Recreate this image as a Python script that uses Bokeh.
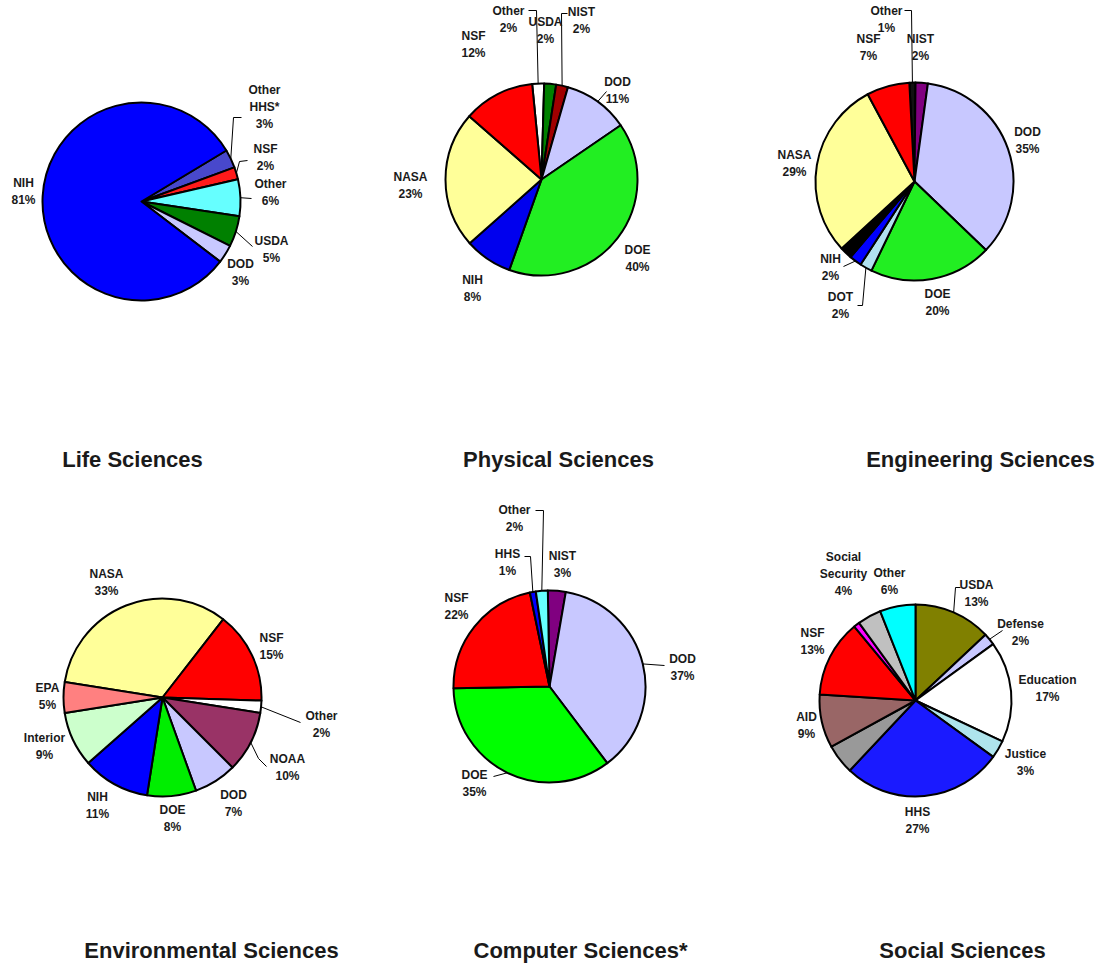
import math

from bokeh.core.properties import value
from bokeh.embed import file_html
from bokeh.models import ColumnDataSource
from bokeh.plotting import figure
from bokeh.resources import INLINE

W, H = 1098, 963

# ---------------------------------------------------------------- data
# Shares of federal research funding by agency (percent), listed clockwise.
life_names = ["Other\nHHS*", "NSF", "Other", "USDA", "DOD", "NIH"]
life_shares = [3, 2, 6, 5, 3, 81]
life_colors = ["#4848CC", "#FF1A1A", "#66FFFF", "#008000", "#C8C8FF", "#0000FF"]

phys_names = ["Other", "USDA", "NIST", "DOD", "DOE", "NIH", "NASA", "NSF"]
phys_shares = [2, 2, 2, 11, 40, 8, 23, 12]
phys_colors = ["#FFFFFF", "#008000", "#A00000", "#C8C8FF", "#22EE22", "#0000EE",
               "#FFFF99", "#FF0000"]

eng_names = ["Other", "NIST", "DOD", "DOE", "DOT", "NIH", None, "NASA", "NSF"]
eng_shares = [1, 2, 35, 20, 2, 2, 2, 29, 7]
eng_colors = ["#111111", "#800080", "#C8C8FF", "#22EE22", "#B0E0F0", "#0000FF",
              "#000000", "#FFFF99", "#FF0000"]

env_names = ["NASA", "NSF", "Other", "NOAA", "DOD", "DOE", "NIH", "Interior", "EPA"]
env_shares = [33, 15, 2, 10, 7, 8, 11, 9, 5]
env_colors = ["#FFFF99", "#FF0000", "#FFFFFF", "#993366", "#C8C8FF", "#00EE00",
              "#0000FF", "#CCFFCC", "#FF8080"]

comp_names = ["NIST", "DOD", "DOE", "NSF", "HHS", "Other"]
comp_shares = [3, 37, 35, 22, 1, 2]
comp_colors = ["#800080", "#C8C8FF", "#00FF00", "#FF0000", "#0000FF", "#66FFFF"]

soc_names = ["USDA", "Defense", "Education", "Justice", "HHS", None, "AID", "NSF",
             None, "Social\nSecurity", "Other"]
soc_shares = [13, 2, 17, 3, 27, 5, 9, 13, 1, 4, 6]
soc_colors = ["#808000", "#C8C8FF", "#FFFFFF", "#AEE4EC", "#1A1AFF", "#999999",
              "#996666", "#FF0000", "#FF00FF", "#C0C0C0", "#00FFFF"]

titles = ["Life Sciences", "Physical Sciences", "Engineering Sciences",
          "Environmental Sciences", "Computer Sciences*", "Social Sciences"]

# -------------------------------------------------------------- layout
# Page coordinates (pixels from the top-left corner); start angle in degrees
# counter-clockwise from 3 o'clock, slices run clockwise from there.
layout = [
    dict(center=(141, 201), r=99, start=31, title=(132, 459),
         labels={0: (264, 106), 1: (265, 157), 2: (270, 192), 3: (271, 249), 4: (240, 272),
                 5: (23, 191)},
         leaders={0: [(233, 117), (241, 117)], 1: [(239, 161), (247, 160)],
                  2: [(251, 198)], 3: [(252, 246)]}),
    dict(center=(541, 179), r=96, start=95.6, title=(558, 459),
         labels={0: (508, 19), 1: (545, 30), 2: (581, 20), 3: (617, 90), 4: (637, 258),
                 5: (472, 288), 6: (410, 185), 7: (473, 44)},
         leaders={0: [(536, 10), (528, 10)], 2: [(561, 13), (567, 13)],
                  3: [(606, 91)]}),
    dict(center=(914, 181), r=99, start=93, title=(980, 459),
         labels={0: (886, 19), 1: (920, 47), 2: (1027, 140), 3: (937, 302), 4: (840, 305),
                 5: (830, 267), 7: (794, 163), 8: (868, 47)},
         leaders={0: [(911, 10), (904, 10)], 4: [(862, 305), (857, 305)],
                  5: [(843, 266)]}),
    dict(center=(162, 697), r=99, start=171, title=(211, 950),
         labels={0: (106, 582), 1: (271, 646), 2: (321, 724), 3: (287, 767), 4: (233, 803),
                 5: (172, 818), 6: (97, 805), 7: (44, 746), 8: (47, 696)},
         leaders={2: [(300, 722)], 3: [(258, 758), (266, 766)]}),
    dict(center=(549, 686), r=96, start=91, title=(580, 950),
         labels={0: (562, 564), 1: (682, 667), 2: (474, 783), 3: (456, 606), 4: (507, 562),
                 5: (514, 518)},
         leaders={1: [(664, 665)], 2: [(493, 776)], 4: [(530, 556), (524, 556)],
                  5: [(543, 510), (535, 510)]}),
    dict(center=(915, 700), r=96, start=90, title=(962, 950),
         labels={0: (976, 593), 1: (1020, 632), 2: (1047, 688), 3: (1025, 762),
                 4: (917, 820), 6: (806, 725), 7: (812, 641), 9: (843, 573), 10: (889, 581)},
         leaders={0: [(955, 587), (960, 587)], 1: [(1002, 630)]}),
]

charts = [
    (life_names, life_shares, life_colors),
    (phys_names, phys_shares, phys_colors),
    (eng_names, eng_shares, eng_colors),
    (env_names, env_shares, env_colors),
    (comp_names, comp_shares, comp_colors),
    (soc_names, soc_shares, soc_colors),
]

LINE_STEP = 17
FONT = value("Liberation Sans")


def fy(y_px):
    """Convert a page y (top-down) to plot data y (bottom-up)."""
    return H - y_px


p = figure(width=W, height=H, x_range=(0, W), y_range=(0, H),
           x_axis_type=None, y_axis_type=None, min_border=0,
           toolbar_location=None, output_backend="svg")
p.grid.visible = False
p.outline_line_color = None
p.background_fill_color = "white"
p.border_fill_color = "white"

wedge = dict(x=[], y=[], r=[], a0=[], a1=[], color=[])
lead_xs, lead_ys = [], []
txt = dict(x=[], y=[], text=[])
ttl = dict(x=[], y=[], text=[])

for (names, shares, colors), lay, title in zip(charts, layout, titles):
    cx, cy = lay["center"]
    r = lay["r"]
    a = math.radians(lay["start"])
    for i, (name, share, color) in enumerate(zip(names, shares, colors)):
        sweep = math.radians(share * 3.6)
        a_end = a - sweep
        wedge["x"].append(cx)
        wedge["y"].append(fy(cy))
        wedge["r"].append(r)
        wedge["a0"].append(a_end)
        wedge["a1"].append(a)
        wedge["color"].append(color)
        mid = a - sweep / 2
        if i in lay["leaders"]:
            pts = [(cx + r * math.cos(mid), cy - r * math.sin(mid))] + lay["leaders"][i]
            lead_xs.append([q[0] for q in pts])
            lead_ys.append([fy(q[1]) for q in pts])
        if name is not None and i in lay["labels"]:
            lx, ly = lay["labels"][i]
            lines = name.split("\n") + [f"{share}%"]
            n = len(lines)
            for k, s in enumerate(lines):
                txt["x"].append(lx)
                txt["y"].append(fy(ly + (k - (n - 1) / 2) * LINE_STEP))
                txt["text"].append(s)
        a = a_end
    tx, ty = lay["title"]
    ttl["x"].append(tx)
    ttl["y"].append(fy(ty))
    ttl["text"].append(title)

p.wedge(x="x", y="y", radius="r", start_angle="a0", end_angle="a1",
        fill_color="color", line_color="black", line_width=2, line_join="round",
        source=ColumnDataSource(wedge))
p.multi_line(xs=lead_xs, ys=lead_ys, line_color="black", line_width=1)
p.text(x="x", y="y", text="text", source=ColumnDataSource(txt),
       text_font=FONT, text_font_style="bold", text_font_size="12px",
       text_align="center", text_baseline="middle", text_color="#1a1a1a")
p.text(x="x", y="y", text="text", source=ColumnDataSource(ttl),
       text_font=FONT, text_font_style="bold", text_font_size="22px",
       text_align="center", text_baseline="middle", text_color="#1a1a1a")

open("out.html", "w").write(file_html(p, INLINE))
